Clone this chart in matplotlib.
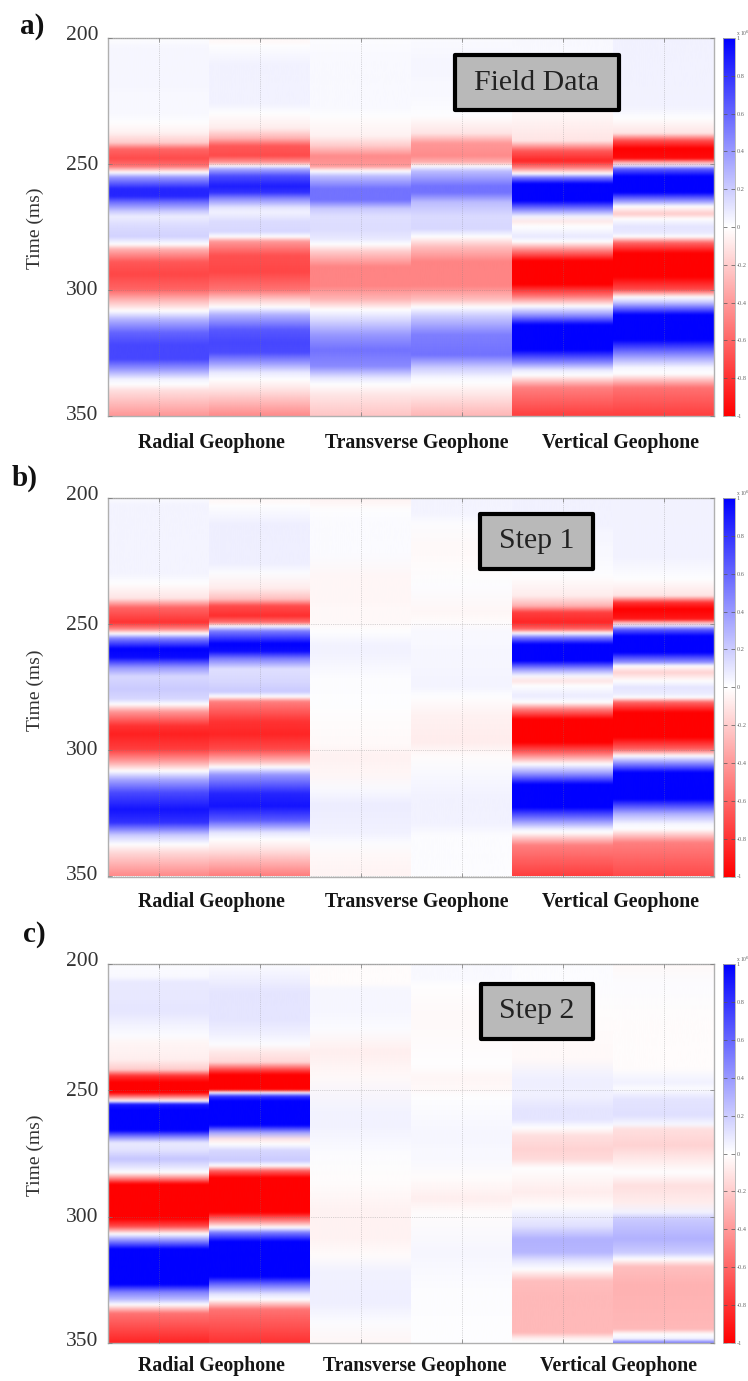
import numpy as np
import matplotlib
matplotlib.use("Agg")
import matplotlib.pyplot as plt
from matplotlib.colors import LinearSegmentedColormap, Normalize
from matplotlib.cm import ScalarMappable
from matplotlib.image import NonUniformImage
from matplotlib.patches import Rectangle
from matplotlib.transforms import ScaledTranslation

plt.rcParams['font.family'] = ['Liberation Serif', 'DejaVu Serif']
plt.rcParams['axes.unicode_minus'] = False

TITLES = ["Field Data", "Step 1", "Step 2"]
LETTERS = ["a)", "b)", "c)"]
GEOPHONES = ["Radial Geophone", "Transverse Geophone", "Vertical Geophone"]
YTICKS = [200, 250, 300, 350]
CBAR_TICKS = [1, 0.8, 0.6, 0.4, 0.2, 0, -0.2, -0.4, -0.6, -0.8, -1]

# Panel a
A_R1_T = [200,204,212,230,233.7,237.7,241.7,244.3,248,251,253.5,255.5,260,263,265.5,269,271,275,279,282,284,289,294,300,304,308.5,312,317,322,327.6,331.6,335.6,337.6,340,350]
A_R1_V = [0,.03,.03,.02,0,-.05,-.2,-.6,-.7,-.55,0,.4,.85,.85,.55,.2,.07,.14,.17,0,-.3,-.65,-.72,-.6,-.3,0,.3,.6,.72,.72,.4,.05,0,-.12,-.4]
A_R2_T = [200,202,203,211,226,230,236,240,243,247,249.6,251,252,255,259,261.5,264,267.5,269.5,273,277,279,281,286.5,293,300,304,307,310,316,321,325,329,333,335.6,339.5,350]
A_R2_V = [-.02,-.02,0,.05,.05,0,-.07,-.3,-.65,-.7,-.4,0,.3,.7,.88,.8,.45,.1,.05,.13,.15,0,-.4,-.68,-.72,-.55,-.2,0,.3,.65,.72,.7,.4,.08,0,-.1,-.45]
A_T1_T = [200,210,227,231,239,243,247,251,253,255,260,264.5,268,271,276,280,282,285,291,298.5,304,308,312,318,324,330.5,335,337.6,342,350]
A_T1_V = [.01,.02,.02,0,-.05,-.2,-.45,-.4,0,.25,.55,.55,.2,.12,.13,.08,0,-.2,-.48,-.48,-.28,0,.15,.4,.55,.45,.1,0,-.1,-.22]
A_T2_T = [200,210,223,231,238,242,247,249.6,251,253,259,261.5,265.5,271,276,279,283,289,298.5,304,307,310.5,318,326,331,335,337,342,350]
A_T2_V = [.015,.03,.02,0,-.1,-.4,-.45,-.3,0,.25,.55,.55,.25,.14,.15,0,-.25,-.48,-.48,-.25,0,.2,.5,.55,.2,.03,0,-.1,-.28]
A_V1_T = [200,206,219,231,241,245,249,251.6,254,255.5,258,264.8,268,271,273,275,279,281,284.6,288.6,298,302.5,306.6,310,314,324,328.6,332,334,339,350]
A_V1_V = [.02,.02,.01,-.03,-.1,-.65,-.85,-.5,0,.5,1,1,.5,.05,-.08,0,.08,0,-.5,-1,-1,-.55,0,.4,1,1,.5,.08,0,-.5,-.75]
A_V2_T = [200,219,228,232,238,241,244,248,249.6,251,252,255,261.5,265.5,267,270,272,275,277.5,279,281.5,285.6,295,300,303,305,310,320,327,331,333.5,339,350]
A_V2_V = [.05,.05,.04,0,-.1,-.7,-1,-.95,-.3,.1,.6,1,1,.3,0,-.2,0,.1,.08,0,-.6,-1,-1,-.7,0,.2,1,1,.35,.03,0,-.55,-.75]

# Panel b
B_R1_T = [200,203,230,234,240,243.7,249.6,252,254,256,260,263.5,267.5,271,276,280,282,285,290.6,294,300,305,308.5,312,317,323.8,329,334,337.6,341,350]
B_R1_V = [.01,.04,.04,0,-.1,-.6,-.8,-.5,0,.5,1,.95,.4,.15,.2,.15,0,-.4,-.8,-.87,-.75,-.35,0,.35,.7,.92,.8,.2,0,-.15,-.45]
B_R2_T = [200,202,203,211,226,230,236,240.3,243,247,249.6,251,253,258,261,264,268,273,277,279,281,289,294,300,305,307,310,317.5,322.5,328,333,335.6,339.5,350]
B_R2_V = [-.02,-.02,0,.06,.06,.01,-.07,-.25,-.7,-.82,-.55,0,.5,1,.95,.5,.12,.15,.2,0,-.5,-.8,-.85,-.7,-.25,0,.4,.85,.92,.65,.1,0,-.1,-.5]
B_T1_T = [200,201,205,210,223,231,236,249.6,253,259,263,271,283,289.6,298.5,302.5,310,316,322,333,337,342,350]
B_T1_V = [-.04,-.04,0,.015,.015,-.03,-.03,-.02,0,.05,.04,.01,0,-.01,-.02,-.05,-.03,.02,.07,.05,.01,-.02,-.04]
B_T2_T = [200,206,210,220,227,236,245.6,249.6,253,265.5,274.7,279,286.6,297,302.5,310,319.7,329,334,342,350]
B_T2_V = [.04,.04,.01,-.02,-.01,.01,-.03,-.01,.02,.03,.04,0,-.05,-.07,-.01,.02,.05,.05,.01,.01,.01]
B_V1_T = [200,211,214,223,231,239,243,245.6,249.6,252.2,253.8,255.5,258.2,264.8,268.1,270.8,272.8,274.7,278.7,281.3,284,288,297.2,301.2,305.8,309.1,313.8,323,327.6,331.6,332.9,338,350]
B_V1_V = [.05,.05,.03,.02,0,-.07,-.3,-.75,-.85,-.6,0,.5,1,1,.4,.03,-.1,0,.07,0,-.5,-1,-1,-.6,0,.35,1,1,.5,.06,0,-.5,-.75]
B_V2_T = [200,223,232.4,239,241.7,244.3,248.3,249.6,250.9,252.2,254.9,261.5,265.5,266.8,269.4,272.8,275.4,278,279.4,281.3,285.3,295.2,299.9,302.5,304.5,309.1,319.7,325.7,329.6,331.6,337,350]
B_V2_V = [.04,.05,0,-.1,-.8,-1,-.9,-.3,.1,.6,1,1,.4,0,-.17,0,.1,.07,0,-.6,-1,-1,-.6,0,.3,1,1,.3,.03,0,-.5,-.7]

# Panel c
C_R1_T = [200,205,207.5,219.4,224.7,228.6,231,238,242,244.5,247,251,252.4,254.4,255.7,258,266,269,271,273.5,277.4,280,282.7,284.7,287.3,301,304,307,310,313,327,330,333,335,338.5,350]
C_R1_V = [.01,.02,.08,.09,.04,.01,-.03,-.06,-.2,-.8,-1,-1,-.6,0,.9,1,1,.4,.08,.1,.22,.12,0,-.4,-1,-1,-.7,0,.5,1,1,.5,.25,0,-.55,-.85]
C_R2_T = [200,207,211.5,222,227,232,235,239,242,244,250,251,252.6,254.4,264,267,269.5,271.5,274,278,280,282,284.7,298.5,302,304.5,306.5,310,324,327.6,331,333,337,350]
C_R2_V = [.01,.06,.1,.1,.06,.01,-.08,-.15,-.7,-1,-1,0,.8,1,1,.35,-.1,0,.15,.2,0,-.6,-1,-1,-.45,0,.5,1,1,.5,.1,0,-.55,-.8]
C_T1_T = [200,208,210,219,226,232,235,244.5,257.6,263,275,287,296,308,315.7,322,334,342,350]
C_T1_V = [-.01,-.01,.03,.03,.01,-.04,-.06,-.02,.04,.05,.01,-.01,-.04,-.05,-.01,.05,.06,.01,-.03]
C_T2_T = [200,206,208,222,240.5,244.5,250,252.6,267,277.4,285,293,298.5,314.7,327.6,350]
C_T2_V = [.02,.02,0,-.02,0,-.03,-.02,0,.03,.02,-.01,-.06,-.01,.03,.01,0]
C_V1_T = [200,208,222,238,244.5,247,252,257.6,261.6,265,268,273.5,277.4,281,285,290.6,296,299,304,309,314.4,317.7,321,325.6,331.5,346,348.5,350]
C_V1_V = [.01,.01,-.01,-.02,.05,.06,.05,.1,.1,0,-.12,-.17,-.14,0,-.03,-.07,-.01,.05,.12,.3,.28,.1,0,-.25,-.27,-.27,-.05,0]
C_V2_T = [200,208,222,241.8,244.5,247,249.6,253.7,260,263.6,265.6,272,280,282.7,288,294.6,298.5,301,309,314.4,317,320,327.6,344.7,346.7,348.6,350]
C_V2_V = [-.02,.01,-.01,-.01,.03,.05,.01,.1,.12,.03,-.12,-.17,-.04,0,-.12,-.07,.05,.2,.3,.2,0,-.25,-.3,-.27,0,.05,.5]

PANEL_TRACES = [
    [(A_R1_T,A_R1_V),(A_R2_T,A_R2_V),(A_T1_T,A_T1_V),(A_T2_T,A_T2_V),(A_V1_T,A_V1_V),(A_V2_T,A_V2_V)],
    [(B_R1_T,B_R1_V),(B_R2_T,B_R2_V),(B_T1_T,B_T1_V),(B_T2_T,B_T2_V),(B_V1_T,B_V1_V),(B_V2_T,B_V2_V)],
    [(C_R1_T,C_R1_V),(C_R2_T,C_R2_V),(C_T1_T,C_T1_V),(C_T2_T,C_T2_V),(C_V1_T,C_V1_V),(C_V2_T,C_V2_V)],
]

W, H = 748, 1381
fig = plt.figure(figsize=(W/100, H/100), dpi=100)
def fx(p): return p/W
def fy(p): return 1-p/H

cmap = LinearSegmentedColormap.from_list("rwb", ["#ff0000", "#ffffff", "#0000ff"], N=512)
norm = Normalize(-1, 1)

BLUR = np.array([0.06, 0.24, 0.40, 0.24, 0.06])

def soften(img, dpi):
    """Vertical softening of the rendered image, as in the slightly blurred reference."""
    r = len(BLUR)//2
    padded = np.pad(img, ((r, r), (0, 0), (0, 0)), mode='edge')
    out = sum(w*padded[j:j+img.shape[0]] for j, w in enumerate(BLUR))
    return out, 0, 0

AX_L, AX_R, CB_L, CB_R = 108, 714, 723, 735
TOPS = [38, 498, 964]
BOTS = [416, 876.5, 1343]
LABEL_Y = [443, 902, 1366]
LABEL_X = [[211, 417, 620], [211, 417, 620], [211, 415, 618]]
LETTER_POS = [(20, 26), (12, 478), (23, 934)]
YLAB_Y = [228, 690, 1155]
BOXES = [(453, 621, 53, 112), (478, 595, 512, 571), (479, 595, 982, 1041)]
TICK_DY = [5, 1.5, 2, 3.5]
GRID = '#808080'
FRAME = '#b0b0b0'

for p, traces in enumerate(PANEL_TRACES):
    top, bot = TOPS[p], BOTS[p]
    ax = fig.add_axes([fx(AX_L), fy(bot), (AX_R-AX_L)/W, (bot-top)/H])
    ax.set_xlim(0, 6)
    ax.set_ylim(350, 200)
    for i, (t, v) in enumerate(traces):
        t = np.asarray(t, float); v = np.asarray(v, float)
        im = NonUniformImage(ax, interpolation='bilinear', cmap=cmap, norm=norm, zorder=1,
                             extent=(i, i+1, 350, 200))
        im.set_data([i, i+1], t, np.column_stack([v, v]))
        ax.add_image(im)
        im.set_clip_path(Rectangle((i, 200), 1, 150, transform=ax.transData))
        im.set_agg_filter(soften)
    ax.set_xlim(0, 6)
    ax.set_ylim(350, 200)
    ax.set_xticks(np.arange(6)+0.5)
    ax.set_xticklabels([])
    ax.set_yticks(YTICKS)
    ax.set_yticklabels([str(y) for y in YTICKS], fontsize=15.5, color='#333333')
    ax.tick_params(axis='x', direction='in', length=3, width=0.5, color='#777777', top=True, bottom=True)
    ax.tick_params(axis='y', direction='in', length=3, width=0.5, color='#777777', left=True, right=True, pad=7)
    for lab, dy in zip(ax.get_yticklabels(), TICK_DY):
        lab.set_transform(lab.get_transform() + ScaledTranslation(0, dy/100, fig.dpi_scale_trans))
    ax.grid(True, linestyle=':', linewidth=0.5, color=GRID, alpha=0.6, zorder=2)
    ax.set_axisbelow(False)
    for s in ax.spines.values():
        s.set_color(FRAME); s.set_linewidth(1.0)

    for name, x in zip(GEOPHONES, LABEL_X[p]):
        fig.text(fx(x), fy(LABEL_Y[p]), name, ha='center', va='center', fontsize=14.2,
                 fontweight='bold', color='#151515')
    lx, ly = LETTER_POS[p]
    fig.text(fx(lx), fy(ly), LETTERS[p], ha='left', va='center', fontsize=21, fontweight='bold', color='#111111')
    fig.text(fx(35), fy(YLAB_Y[p]), "Time (ms)", rotation=90, ha='center', va='center', fontsize=14, color='#333333')

    l, r, t_, b_ = BOXES[p]
    fig.add_artist(Rectangle((fx(l+2), fy(b_-2)), (r-l-4)/W, (b_-t_-4)/H, transform=fig.transFigure,
                             facecolor='#b9b9b9', edgecolor='black', linewidth=3, zorder=5, joinstyle='round'))
    fig.text(fx((l+r)/2), fy((t_+b_)/2), TITLES[p], ha='center', va='center', fontsize=21.5, color='#222222', zorder=6)

    cax = fig.add_axes([fx(CB_L), fy(bot), (CB_R-CB_L)/W, (bot-top)/H])
    cb = fig.colorbar(ScalarMappable(norm=norm, cmap=cmap), cax=cax, ticks=CBAR_TICKS)
    cb.ax.set_yticklabels([str(x) for x in CBAR_TICKS])
    cb.ax.tick_params(direction='in', length=3, width=0.5, color='#555555', labelsize=4.5, labelcolor='#666666',
                      left=True, right=True, pad=1)
    cb.outline.set_edgecolor(FRAME); cb.outline.set_linewidth(0.6)
    fig.text(fx(736), fy(top-5), "x 10$^6$", ha='left', va='center', fontsize=4, color='#666666')

fig.savefig("out.png", dpi=100)
